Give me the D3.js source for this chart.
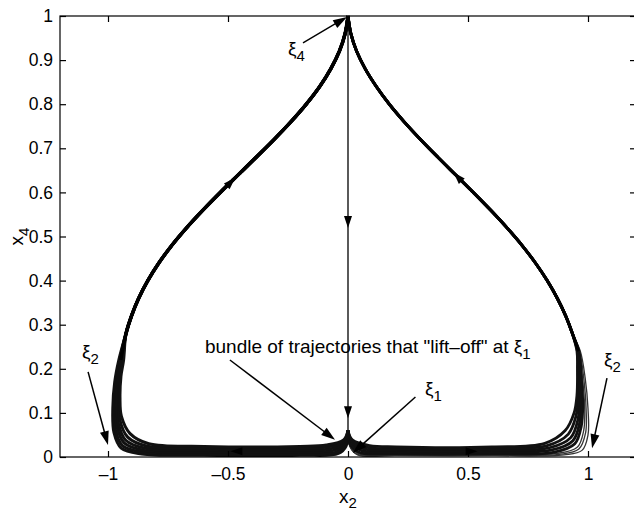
<!DOCTYPE html>
<html><head><meta charset="utf-8">
<script src="https://cdn.jsdelivr.net/npm/d3@7"></script>
<style>
body{margin:0;background:#fff}
svg{display:block}
text{font-family:"Liberation Sans",Arial,Helvetica,sans-serif;fill:#000}
</style>
</head><body>
<svg id="c" width="634" height="510"></svg>
<script>
// ---------- data ----------
const xTicks = [-1, -0.5, 0, 0.5, 1];
const xTickLabels = ["\u20131", "\u20130.5", "0", "0.5", "1"];
const yTicks = [0, 0.1, 0.2, 0.3, 0.4, 0.5, 0.6, 0.7, 0.8, 0.9, 1];
const yTickLabels = ["0", "0.1", "0.2", "0.3", "0.4", "0.5", "0.6", "0.7", "0.8", "0.9", "1"];

// shared upper arcs (from the side up to the cusp at xi4)
const leftUpper = [[-0.925,0.28],[-0.902,0.32],[-0.872,0.36],[-0.834,0.40],[-0.788,0.44],[-0.734,0.48],
  [-0.672,0.52],[-0.604,0.56],[-0.532,0.60],[-0.457,0.64],[-0.382,0.68],[-0.308,0.72],[-0.238,0.76],
  [-0.174,0.80],[-0.118,0.84],[-0.072,0.88],[-0.036,0.92],[-0.012,0.96],[0,1]];
const rightUpper = [[0.935,0.28],[0.907,0.32],[0.872,0.36],[0.83,0.40],[0.781,0.44],[0.725,0.48],
  [0.662,0.52],[0.594,0.56],[0.522,0.60],[0.448,0.64],[0.374,0.68],[0.302,0.72],[0.234,0.76],
  [0.172,0.80],[0.118,0.84],[0.072,0.88],[0.036,0.92],[0.012,0.96],[0,1]];

// lower parts of the individual trajectories of each bundle
const leftBundle = [
  [[0,0.06],[-0.008,0.025],[-0.04,0.008],[-0.2,0.004],[-0.6,0.004],[-0.86,0.007],[-0.945,0.02],[-0.975,0.055],[-0.98,0.11],[-0.972,0.17],[-0.955,0.22]],
  [[0,0.06],[-0.01,0.027],[-0.05,0.011],[-0.2,0.008],[-0.6,0.008],[-0.855,0.011],[-0.94,0.026],[-0.969,0.062],[-0.974,0.115],[-0.966,0.172],[-0.951,0.22]],
  [[0,0.06],[-0.012,0.03],[-0.06,0.015],[-0.2,0.012],[-0.6,0.012],[-0.85,0.015],[-0.933,0.032],[-0.963,0.07],[-0.968,0.12],[-0.961,0.175],[-0.947,0.22]],
  [[0,0.06],[-0.014,0.033],[-0.07,0.019],[-0.2,0.016],[-0.6,0.016],[-0.845,0.02],[-0.926,0.038],[-0.957,0.077],[-0.962,0.125],[-0.956,0.178],[-0.943,0.22]],
  [[0,0.06],[-0.016,0.036],[-0.08,0.023],[-0.2,0.02],[-0.6,0.02],[-0.84,0.025],[-0.918,0.045],[-0.951,0.085],[-0.956,0.13],[-0.951,0.18],[-0.939,0.22]],
  [[0,0.06],[-0.018,0.039],[-0.09,0.027],[-0.2,0.024],[-0.6,0.024],[-0.83,0.03],[-0.908,0.053],[-0.944,0.092],[-0.95,0.135],[-0.946,0.183],[-0.935,0.22]]
];
const rightBundleCore = [
  [[0,0.06],[0.01,0.027],[0.05,0.01],[0.2,0.007],[0.6,0.007],[0.86,0.011],[0.945,0.03],[0.972,0.07],[0.978,0.12],[0.972,0.18],[0.962,0.24]],
  [[0,0.06],[0.012,0.03],[0.06,0.014],[0.2,0.011],[0.6,0.011],[0.85,0.016],[0.937,0.037],[0.965,0.077],[0.972,0.125],[0.968,0.185],[0.96,0.24]],
  [[0,0.06],[0.014,0.033],[0.07,0.018],[0.2,0.015],[0.6,0.015],[0.84,0.021],[0.928,0.044],[0.958,0.085],[0.966,0.13],[0.964,0.19],[0.958,0.24]],
  [[0,0.06],[0.016,0.036],[0.08,0.022],[0.2,0.019],[0.6,0.019],[0.83,0.026],[0.918,0.052],[0.95,0.093],[0.96,0.135],[0.96,0.195],[0.956,0.24]],
  [[0,0.06],[0.018,0.039],[0.09,0.026],[0.2,0.023],[0.6,0.023],[0.82,0.031],[0.905,0.06],[0.942,0.1],[0.954,0.14],[0.956,0.2],[0.954,0.24]]
];
const rightBundleOuter = [
  [[0,0.06],[0.008,0.024],[0.04,0.006],[0.2,0.004],[0.6,0.004],[0.88,0.006],[0.962,0.018],[0.99,0.055],[0.992,0.11],[0.982,0.18],[0.965,0.24]],
  [[0,0.06],[0.008,0.024],[0.04,0.005],[0.2,0.003],[0.6,0.003],[0.9,0.005],[0.975,0.015],[1.0,0.05],[1.0,0.11],[0.988,0.18],[0.968,0.24]],
  [[0,0.06],[0.009,0.025],[0.045,0.007],[0.2,0.005],[0.6,0.005],[0.87,0.008],[0.955,0.022],[0.982,0.06],[0.986,0.115],[0.977,0.18],[0.963,0.24]]
];
const verticalLine = [[0,1],[0,0.06]];

// direction arrows on the trajectories: tip and a point behind it
const flowArrowTips  = [[-0.47,0.633],[0.44,0.645],[0,0.519],[0,0.088],[-0.49,0.013],[0.54,0.013]];
const flowArrowFroms = [[-0.53,0.60],[0.50,0.61],[0,0.57],[0,0.13],[-0.44,0.013],[0.49,0.013]];

// annotation arrows (tail -> tip) and labels
const annTails = [[-0.1875,0.939],[-1.083,0.193],[1.079,0.179],[-0.492,0.220],[0.281,0.136]];
const annTips  = [[-0.004,0.998],[-1.0,0.027],[1.017,0.02],[-0.054,0.039],[0.02,0.009]];
const annLabels = [
  {base:"\u03BE", sub:"4", at:[-0.25,0.912]},
  {base:"\u03BE", sub:"2", at:[-1.108,0.224]},
  {base:"\u03BE", sub:"2", at:[1.067,0.206]},
  {base:"bundle of trajectories that \"lift\u2013off\" at \u03BE", sub:"1", at:[-0.596,0.236]},
  {base:"\u03BE", sub:"1", at:[0.321,0.141]}
];

// ---------- drawing ----------
const m = {left:60, top:16, right:636, bottom:457};
const svg = d3.select("#c");
const x = d3.scaleLinear().domain([-1.2,1.2]).range([m.left, m.right]);
const y = d3.scaleLinear().domain([0,1]).range([m.bottom, m.top]);

const line = d3.line().x(d=>x(d[0])).y(d=>y(d[1])).curve(d3.curveCatmullRom.alpha(0.5));
const plot = svg.append("g");

plot.append("path").attr("d", d3.line().x(d=>x(d[0])).y(d=>y(d[1]))(verticalLine))
  .attr("fill","none").attr("stroke","#000").attr("stroke-width",1.3);

rightBundleOuter.forEach(b=>{
  plot.append("path").attr("d", line(b.concat(rightUpper)))
    .attr("fill","none").attr("stroke","#333").attr("stroke-width",1.3);
});
rightBundleCore.forEach(b=>{
  plot.append("path").attr("d", line(b.concat(rightUpper)))
    .attr("fill","none").attr("stroke","#111").attr("stroke-width",2.8);
});
leftBundle.forEach(b=>{
  plot.append("path").attr("d", line(b.concat(leftUpper)))
    .attr("fill","none").attr("stroke","#111").attr("stroke-width",3);
});
plot.append("path").attr("d", line([[-0.947,0.22]].concat(leftUpper))).attr("fill","none").attr("stroke","#000").attr("stroke-width",3.6);
plot.append("path").attr("d", line([[0.96,0.24]].concat(rightUpper))).attr("fill","none").attr("stroke","#000").attr("stroke-width",3);

function head(tipPx, fromPx, len, wid){
  const dx = tipPx[0]-fromPx[0], dy = tipPx[1]-fromPx[1];
  const L = Math.hypot(dx,dy), ux = dx/L, uy = dy/L;
  const bx = tipPx[0]-ux*len, by = tipPx[1]-uy*len;
  return `M${tipPx[0]},${tipPx[1]}L${bx - uy*wid/2},${by + ux*wid/2}L${bx + uy*wid/2},${by - ux*wid/2}Z`;
}

flowArrowTips.forEach((t,i)=>{
  const tp=[x(t[0]),y(t[1])], fp=[x(flowArrowFroms[i][0]),y(flowArrowFroms[i][1])];
  plot.append("path").attr("d", head(tp,fp,12,8)).attr("fill","#000");
});

annTails.forEach((t,i)=>{
  const tp=[x(annTips[i][0]),y(annTips[i][1])], fp=[x(t[0]),y(t[1])];
  const dx=tp[0]-fp[0], dy=tp[1]-fp[1], L=Math.hypot(dx,dy);
  const ex = tp[0]-dx/L*10, ey = tp[1]-dy/L*10;
  plot.append("line").attr("x1",fp[0]).attr("y1",fp[1]).attr("x2",ex).attr("y2",ey)
    .attr("stroke","#000").attr("stroke-width",1.5);
  plot.append("path").attr("d", head(tp,fp,14,9)).attr("fill","#000");
});

annLabels.forEach(a=>{
  const t = svg.append("text").attr("x", x(a.at[0])).attr("y", y(a.at[1])).attr("font-size", 19);
  t.append("tspan").text(a.base);
  t.append("tspan").attr("dy", 6).attr("font-size", 15).text(a.sub);
});

svg.append("rect").attr("x",m.left).attr("y",m.top).attr("width",m.right-m.left).attr("height",m.bottom-m.top)
  .attr("fill","none").attr("stroke","#000").attr("stroke-width",1.2);

const gx = svg.append("g").attr("transform",`translate(0,${m.bottom})`)
  .call(d3.axisBottom(x).tickValues(xTicks).tickFormat((d,i)=>xTickLabels[i]).tickSize(-6).tickPadding(11));
const gxt = svg.append("g").attr("transform",`translate(0,${m.top})`)
  .call(d3.axisTop(x).tickValues(xTicks).tickFormat("").tickSize(-6));
const gy = svg.append("g").attr("transform",`translate(${m.left},0)`)
  .call(d3.axisLeft(y).tickValues(yTicks).tickFormat((d,i)=>yTickLabels[i]).tickSize(-6).tickPadding(7));
const gyr = svg.append("g").attr("transform",`translate(${m.right},0)`)
  .call(d3.axisRight(y).tickValues(yTicks).tickFormat("").tickSize(-6));
[gx,gxt,gy,gyr].forEach(g=>{
  g.select(".domain").remove();
  g.selectAll(".tick line").attr("stroke","#000").attr("stroke-width",1.2);
  g.selectAll("text").attr("font-size",17.5).attr("font-family","'Liberation Sans',Arial,sans-serif").attr("fill","#000");
});

const xl = svg.append("text").attr("x", x(0)).attr("y", 503).attr("text-anchor","middle").attr("font-size",19);
xl.append("tspan").text("x");
xl.append("tspan").attr("dy",5).attr("font-size",15).text("2");
const yl = svg.append("text").attr("transform",`translate(23,${y(0.5)}) rotate(-90)`).attr("text-anchor","middle").attr("font-size",19);
yl.append("tspan").text("x");
yl.append("tspan").attr("dy",6).attr("font-size",15).text("4");
</script>
</body></html>
